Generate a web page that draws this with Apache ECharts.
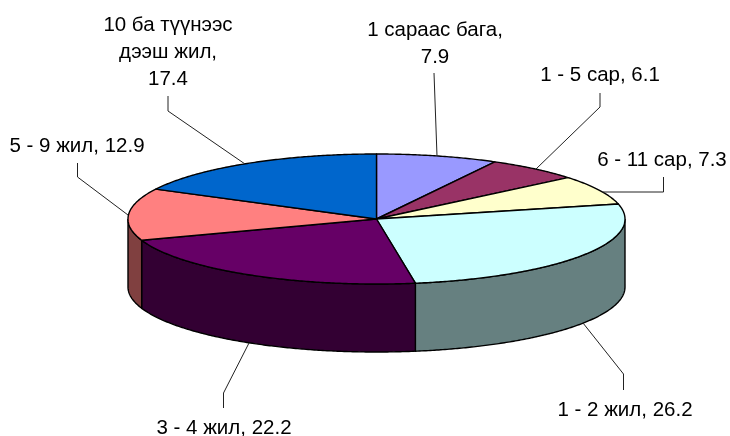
<!DOCTYPE html>
<html>
<head>
<meta charset="utf-8">
<style>
  html, body { margin: 0; padding: 0; background: #fff; }
  #pie3d { width: 730px; height: 436px; }
</style>
<script src="https://cdn.jsdelivr.net/npm/echarts@6/dist/echarts.min.js"></script>
</head>
<body>
<div id="pie3d"></div>
<script>
var categories = ["1 сараас бага", "1 - 5 сар", "6 - 11 сар", "1 - 2 жил", "3 - 4 жил", "5 - 9 жил", "10 ба түүнээс дээш жил"];
var values = [7.9, 6.1, 7.3, 26.2, 22.2, 12.9, 17.4];
var topColors = ["#9999ff", "#993366", "#ffffcc", "#ccffff", "#660066", "#ff8080", "#0066cc"];
var sideColors = ["#4d4d80", "#4d1a33", "#808066", "#668080", "#330033", "#804040", "#003366"];

// label layout: centre of the text block, and the leader line drawn to the pie
var labelBreaks = [
  ["1 сараас бага,", "{v}"],
  ["1 - 5 сар, {v}"],
  ["6 - 11 сар, {v}"],
  ["1 - 2 жил, {v}"],
  ["3 - 4 жил, {v}"],
  ["5 - 9 жил, {v}"],
  ["10 ба түүнээс", "дээш жил,", "{v}"]
];
var labelCenters = [[435, 43.5], [600, 75], [662, 160], [625, 410], [224, 428], [77, 146], [168, 52]];
var leaders = [
  [[434, 73], [437, 156]],
  [[600, 93], [600, 107], [536, 169]],
  [[663.5, 177], [663.5, 192], [603, 192]],
  [[623.5, 390], [623.5, 374], [583, 323]],
  [[223.5, 408], [223.5, 393], [249, 343]],
  [[77.5, 163], [77.5, 177], [128, 215]],
  [[168, 96], [168, 111], [245, 164]]
];

// pie geometry
var cx = 376.5, cy = 219, rx = 248.5, ry = 65, depth = 68;

var total = values.reduce(function (a, b) { return a + b; }, 0);
var starts = [];
values.reduce(function (acc, v, i) {
  starts[i] = acc;
  return acc + v;
}, 0);

// angle in degrees from 12 o'clock, clockwise
function rimPoint(deg, dy) {
  var t = (deg * Math.PI) / 180;
  return [cx + rx * Math.sin(t), cy - ry * Math.cos(t) + (dy || 0)];
}

function arc(a0, a1, dy) {
  var pts = [];
  var n = Math.max(2, Math.ceil(Math.abs(a1 - a0) * 2));
  for (var i = 0; i <= n; i++) {
    pts.push(rimPoint(a0 + ((a1 - a0) * i) / n, dy));
  }
  return pts;
}

function renderSlice(params, api) {
  var i = params.dataIndex;
  var a0 = (starts[i] / total) * 360;
  var a1 = ((starts[i] + api.value(0)) / total) * 360;
  var children = [];

  // wall only shows on the front half of the rim
  var s0 = Math.max(a0, 90), s1 = Math.min(a1, 270);
  if (s1 > s0) {
    children.push({
      type: "polygon",
      shape: { points: arc(s0, s1, 0).concat(arc(s1, s0, depth)) },
      style: { fill: sideColors[i], stroke: "#000", lineWidth: 1.4 },
    });
  }

  children.push({
    type: "polygon",
    shape: { points: [[cx, cy]].concat(arc(a0, a1, 0)) },
    style: { fill: topColors[i], stroke: "#000", lineWidth: 1.4, lineJoin: "round" },
  });

  children.push({
    type: "polyline",
    shape: { points: leaders[i] },
    style: { fill: null, stroke: "#222", lineWidth: 1 },
  });

  var text = labelBreaks[i].join("\n").replace("{v}", api.value(0));
  children.push({
    type: "text",
    x: labelCenters[i][0],
    y: labelCenters[i][1],
    style: {
      text: text,
      fill: "#000",
      font: '20.5px "Liberation Sans", Arial, sans-serif',
      lineHeight: 27,
      align: "center",
      verticalAlign: "middle",
    },
  });

  return { type: "group", children: children };
}

var myChart = echarts.init(document.getElementById("pie3d"), null, { renderer: "canvas" });

myChart.setOption({
  animation: false,
  backgroundColor: "#fff",
  series: [
    {
      type: "custom",
      coordinateSystem: "none",
      silent: true,
      renderItem: renderSlice,
      data: values.map(function (v, i) {
        return { name: categories[i], value: [v] };
      }),
    },
  ],
});

window.addEventListener("resize", myChart.resize);
</script>
</body>
</html>
